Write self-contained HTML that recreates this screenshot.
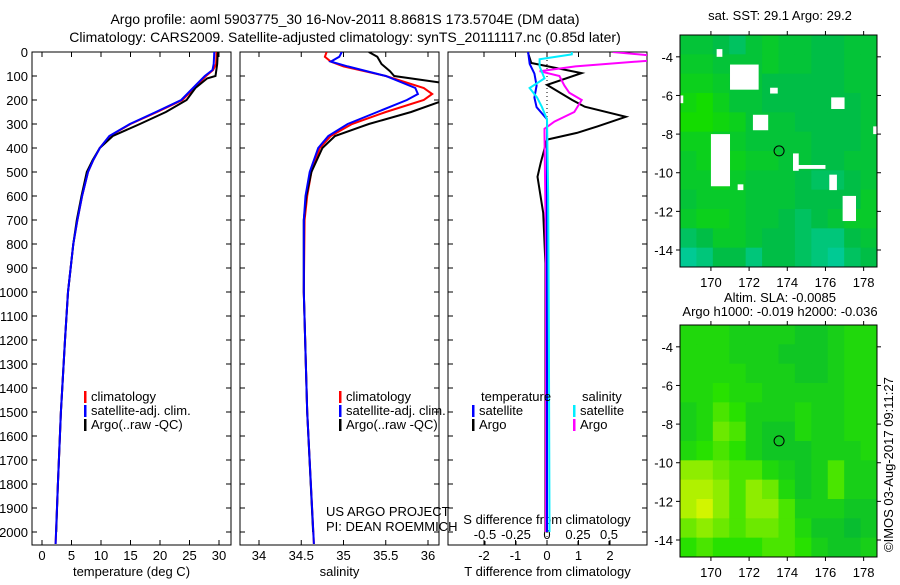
<!DOCTYPE html>
<html><head><meta charset="utf-8"><style>
body{margin:0;background:#fff}
svg{font-family:"Liberation Sans",sans-serif;font-size:13px}
</style></head><body>
<svg id="c" width="900" height="580" viewBox="0 0 900 580">
<text x="345" y="24" text-anchor="middle" font-size="14">Argo profile: aoml 5903775_30 16-Nov-2011 8.8681S 173.5704E (DM data)</text>
<text x="345" y="42" text-anchor="middle" font-size="14">Climatology: CARS2009. Satellite-adjusted climatology: synTS_20111117.nc (0.85d later)</text>
<text x="780" y="20" text-anchor="middle">sat. SST: 29.1 Argo: 29.2</text>
<text x="780" y="302" text-anchor="middle">Altim. SLA: -0.0085</text>
<text x="780" y="316" text-anchor="middle">Argo h1000: -0.019 h2000: -0.036</text>
<text transform="translate(893,552) rotate(-90)" x="0" y="0" text-anchor="start">©IMOS 03-Aug-2017 09:11:27</text>
<g id="g"></g>
</svg>
<script>
// ---------- data ----------
const depthT = [0,50,75,100,150,200,250,300,350,400,450,500,600,700,800,1000,1200,1500,1800,2050];
const tempClim = [29.6,29.5,29,27.8,25.8,23.8,19.5,15,11.5,9.8,8.7,7.8,6.8,6,5.3,4.4,3.9,3.2,2.7,2.3];
const tempSat  = [29.2,29.1,28.9,27.6,25.6,23.6,19.3,14.9,11.4,9.8,8.7,7.8,6.8,6,5.3,4.4,3.9,3.2,2.7,2.3];
const depthTA = [0,50,100,110,150,200,250,300,350,400,450,500,600,700,800,1000,1200,1500,1800,2000];
const tempArgo = [29.8,29.7,29.4,28,26,24.5,21,16.6,12,9.8,8.6,7.6,6.7,5.9,5.3,4.4,3.9,3.2,2.7,2.4];
const depthS = [0,20,40,60,100,150,175,200,250,300,350,400,500,600,700,1000,1500,2050];
const salClim = [34.8,34.78,34.85,35.0,35.5,35.95,36.05,35.95,35.5,35.1,34.85,34.72,34.62,34.57,34.54,34.53,34.57,34.65];
const salSat  = [34.98,34.95,34.85,35.05,35.5,35.85,35.88,35.75,35.4,35.05,34.82,34.7,34.6,34.55,34.53,34.53,34.57,34.65];
const depthSA = [0,20,50,80,100,130,200,250,300,350,400,500,600,700,1000,1500,2000];
const salArgo = [35.3,35.4,35.45,35.55,35.6,36.2,36.2,35.8,35.3,34.9,34.75,34.62,34.56,34.53,34.53,34.57,34.64];
const depthDT = [4,46,88,137,200,228,270,310,337,365,462,520,670,880,1200,1600,2000];
const tDiffArgo = [-0.6,-0.5,1.1,0,0.8,1.2,2.5,1.6,0.95,0,-0.2,-0.3,-0.12,-0.05,-0.05,-0.05,-0.05];
const depthDTS = [0,50,90,140,190,230,280,400,1000,2000];
const tDiffSat = [-0.6,-0.55,-0.4,-0.33,-0.4,-0.33,0,0,0,0];
const depthDSS = [0,10,30,60,110,150,190,230,280,600,1200,2000];
const sDiffSat = [0.2,0.2,-0.06,-0.06,-0.02,-0.14,-0.08,-0.04,0,0.01,0.015,0.02];
const depthDSA = [0,15,35,60,80,100,140,170,200,250,290,320,340,800,2000];
const sDiffArgo = [0.53,0.85,0.85,0.23,-0.06,0.1,0.14,0.18,0.28,0.22,0.06,-0.02,-0.02,-0.01,-0.01];
const tempTicks=[0,5,10,15,20,25,30], salTicks=[34,34.5,35,35.5,36], tdTicks=[-2,-1,0,1,2], sdTicks=[-0.5,-0.25,0,0.25,0.5];
const depthTicks=[0,100,200,300,400,500,600,700,800,900,1000,1100,1200,1300,1400,1500,1600,1700,1800,1900,2000];
const lonTicks=[170,172,174,176,178], latTicks=[-4,-6,-8,-10,-12,-14];
const sstGrid=[
[.4,.4,.5,.6,.4,.3,.4,.4,.5,.5,.4,.4],[.3,.3,.4,.4,.4,.3,.4,.4,.5,.5,.4,.4],[.2,.2,.3,.4,.4,.5,.5,.5,.5,.5,.4,.4],
[.1,0,.2,.4,.4,.5,.5,.5,.5,.5,.5,.4],[0,0,.1,.2,.4,.4,.4,.5,.5,.5,.5,.4],[.2,.2,.3,.3,.4,.4,.4,.4,.5,.5,.5,.4],
[.3,.2,.2,.2,.3,.3,.4,.4,.5,.5,.4,.4],[.3,.3,.2,.3,.4,.4,.4,.5,.6,.6,.5,.4],[.4,.3,.3,.3,.4,.4,.4,.5,.5,.5,.5,.3],
[.3,.2,.2,.3,.4,.4,.5,.6,.5,.4,.3,.3],[.6,.5,.3,.3,.4,.5,.5,.6,.7,.7,.5,.4],[.8,.7,.5,.5,.7,.5,.5,.6,.7,.8,.6,.5]];
const slaGrid=[
[.4,.4,.4,.3,.3,.3,.3,.2,.2,.3,.4,.4],[.4,.4,.4,.3,.3,.3,.2,.2,.2,.3,.4,.4],[.4,.4,.4,.4,.3,.3,.3,.2,.2,.3,.4,.4],
[.4,.4,.5,.4,.4,.3,.3,.3,.3,.3,.4,.4],[.3,.4,.6,.5,.3,.3,.3,.4,.3,.3,.4,.4],[.3,.4,.7,.6,.3,.2,.2,.4,.3,.3,.4,.4],
[.4,.5,.6,.5,.3,.2,.2,.2,.3,.3,.3,.4],[.8,.8,.7,.6,.6,.4,.3,.2,.3,.6,.3,.3],[.9,.9,.8,.6,.8,.7,.4,.2,.3,.6,.3,.3],
[.9,1,.8,.6,.8,.8,.6,.3,.3,.3,.2,.2],[.7,.8,.7,.6,.7,.7,.6,.4,.2,.2,.1,.2],[.5,.6,.5,.5,.5,.6,.6,.5,.3,.2,.2,.3]];
const gaps=[[170.3,170.6,-3.6,-4.0],[171,172.5,-4.4,-5.7],[173.1,173.5,-5.6,-5.9],[176.3,177,-6.1,-6.7],[172.2,173,-7.0,-7.8],[170,171,-8.0,-10.7],[174.3,174.6,-9.0,-9.9],[174.5,176,-9.6,-9.8],[176.2,176.6,-10.1,-10.9],[176.9,177.6,-11.2,-12.5],[168.4,168.55,-6,-6.4],[178.5,178.7,-7.6,-8],[171.4,171.7,-10.6,-10.9]];
const argoLon=173.57, argoLat=-8.87;

// ---------- drawing ----------
const NS='http://www.w3.org/2000/svg', G=document.getElementById('g');
function mk(t,a,p){const e=document.createElementNS(NS,t);for(const k in a)e.setAttribute(k,a[k]);(p||G).appendChild(e);return e;}
const yTop=52,yBot=545, dy=d=>yTop+d*0.24;
function lin(d0,d1,r0,r1){return v=>r0+(v-d0)*(r1-r0)/(d1-d0);}
function line(xs,ds,fx,col,name,clip){
  const pts=xs.map((v,i)=>fx(v).toFixed(1)+','+dy(ds[i]).toFixed(1)).join(' ');
  const e=mk('polyline',{points:pts,fill:'none',stroke:col,'stroke-width':2,'clip-path':'url(#'+clip+')'});
  
  
}
const defs=mk('defs',{});
function panel(id,x0,x1,fx,ticks,fmt,xlabel,showY){
  const cp=mk('clipPath',{id:id},defs);mk('rect',{x:x0,y:yTop,width:x1-x0,height:yBot-yTop},cp);
  const r=mk('rect',{x:x0,y:yTop,width:x1-x0,height:yBot-yTop,fill:'none',stroke:'#000'});
  
  
  ticks.forEach(t=>{const x=fx(t);mk('line',{x1:x,x2:x,y1:yBot,y2:yBot-5,stroke:'#000'});mk('line',{x1:x,x2:x,y1:yTop,y2:yTop+5,stroke:'#000'});
    if(fmt){const tx=mk('text',{x:x,y:yBot+15,'text-anchor':'middle'});tx.textContent=fmt(t);
    
    }});
  depthTicks.forEach(d=>{const y=dy(d);mk('line',{x1:x0,x2:x0+5,y1:y,y2:y,stroke:'#000'});mk('line',{x1:x1,x2:x1-5,y1:y,y2:y,stroke:'#000'});
    if(showY){const tx=mk('text',{x:x0-4,y:y+5,'text-anchor':'end'});tx.textContent=d;
    
    }});
  if(xlabel){const tx=mk('text',{x:(x0+x1)/2,y:576,'text-anchor':'middle'});tx.textContent=xlabel;
  
  }
}
function legend(x,y,items){items.forEach((it,i)=>{mk('rect',{x:x,y:y+i*14-10,width:2.5,height:12,fill:it[0]});const t=mk('text',{x:x+7,y:y+i*14});t.textContent=it[1];
  
  });}

// panel 1
const fT=lin(0,30,42,219);
panel('temp-panel',32,231,fT,tempTicks,v=>v,'temperature (deg C)',true);
line(tempClim,depthT,fT,'#f00','temp-climatology-line','temp-panel');
line(tempArgo,depthTA,fT,'#000','temp-argo-line','temp-panel');
line(tempSat,depthT,fT,'#00f','temp-satellite-line','temp-panel');
legend(84,401,[['#f00','climatology'],['#00f','satellite-adj. clim.'],['#000','Argo(..raw -QC)']]);
// panel 2
const fS=lin(34,36,259,428);
panel('salinity-panel',240,439,fS,salTicks,v=>v,'salinity',false);
line(salClim,depthS,fS,'#f00','sal-climatology-line','salinity-panel');
line(salArgo,depthSA,fS,'#000','sal-argo-line','salinity-panel');
line(salSat,depthS,fS,'#00f','sal-satellite-line','salinity-panel');
legend(339,401,[['#f00','climatology'],['#00f','satellite-adj. clim.'],['#000','Argo(..raw -QC)']]);
[['US ARGO PROJECT',516],['PI: DEAN ROEMMICH',531]].forEach(a=>{const t=mk('text',{x:326,y:a[1]});t.textContent=a[0];

});
// panel 3
const fDT=lin(0,1,547,578.5), fDS=lin(0,1,547,671);
panel('diff-panel',448,647,fDT,tdTicks,v=>v,'T difference from climatology',false);
sdTicks.forEach(t=>{const x=fDS(t);mk('line',{x1:x,x2:x,y1:yBot,y2:yBot-4,stroke:'#000'});const tx=mk('text',{x:x,y:539,'text-anchor':'middle'});tx.textContent=t;

});
{const t=mk('text',{x:547,y:524,'text-anchor':'middle'});t.textContent='S difference from climatology';

}
mk('line',{x1:547,x2:547,y1:yTop,y2:yBot,stroke:'#000','stroke-dasharray':'1,3'});
line(tDiffArgo,depthDT,fDT,'#000','t-diff-argo-line','diff-panel');
line(sDiffArgo,depthDSA,fDS,'#f0f','s-diff-argo-line','diff-panel');
line(tDiffSat,depthDTS,fDT,'#00f','t-diff-satellite-line','diff-panel');
line(sDiffSat,depthDSS,fDS,'#0ef','s-diff-satellite-line','diff-panel');
{const t=mk('text',{x:481,y:401});t.textContent='temperature';
 const u=mk('text',{x:582,y:401});u.textContent='salinity';}
legend(472,415,[['#00f','satellite'],['#000','Argo']]);
legend(573,415,[['#0ef','satellite'],['#f0f','Argo']]);

// maps
function mix(a,b,t){return a.map((v,i)=>Math.round(v+(b[i]-v)*t));}
function ramp(stops,v){const n=stops.length-1,s=Math.min(n-1,Math.floor(v*n)),t=v*n-s;const c=mix(stops[s],stops[s+1],t);return 'rgb('+c.join(',')+')';}
function map(id,y0,y1,grid,stops,withGaps){
  const x0=680,x1=877,lon0=168.38,lon1=178.7,lat0=-2.87,lat1=-14.88;
  const fx=lin(lon0,lon1,x0,x1), fy=lin(lat0,lat1,y0,y1);
  const cp=mk('clipPath',{id:id+'-clip'},defs);mk('rect',{x:x0,y:y0,width:x1-x0,height:y1-y0},cp);
  const g=mk('g',{'clip-path':'url(#'+id+'-clip)'});
  const rows=grid.length,cols=grid[0].length,cw=(x1-x0)/cols,ch=(y1-y0)/rows;
  grid.forEach((row,r)=>row.forEach((v,c)=>{const e=mk('rect',{x:x0+c*cw,y:y0+r*ch,width:cw+0.6,height:ch+0.6,fill:ramp(stops,v)},g);
    
    }));
  if(withGaps)gaps.forEach(q=>{const e=mk('rect',{x:fx(q[0]),y:fy(q[2]),width:fx(q[1])-fx(q[0]),height:fy(q[3])-fy(q[2]),fill:'#fff'},g);
    
    });
  const ci=mk('circle',{cx:fx(argoLon),cy:fy(argoLat),r:5,fill:'none',stroke:'#000'});
  
  
  const fr=mk('rect',{x:x0,y:y0,width:x1-x0,height:y1-y0,fill:'none',stroke:'#000'});
  
  
  lonTicks.forEach(l=>{const x=fx(l);mk('line',{x1:x,x2:x,y1:y1,y2:y1+4,stroke:'#000'});mk('line',{x1:x,x2:x,y1:y0,y2:y0-4,stroke:'#000'});
    const t=mk('text',{x:x,y:y1+20,'text-anchor':'middle'});t.textContent=l;
    
    });
  latTicks.forEach(l=>{const y=fy(l);mk('line',{x1:x0,x2:x0-4,y1:y,y2:y,stroke:'#000'});mk('line',{x1:x1,x2:x1+4,y1:y,y2:y,stroke:'#000'});
    const t=mk('text',{x:x0-7,y:y+5,'text-anchor':'end'});t.textContent=l;
    
    });
}
map('sst-map',35,267,sstGrid,[[20,220,0],[0,190,70],[0,210,200]],true);
map('sla-map',325,557,slaGrid,[[0,180,60],[40,225,0],[210,245,0]],false);
</script>
</body></html>
